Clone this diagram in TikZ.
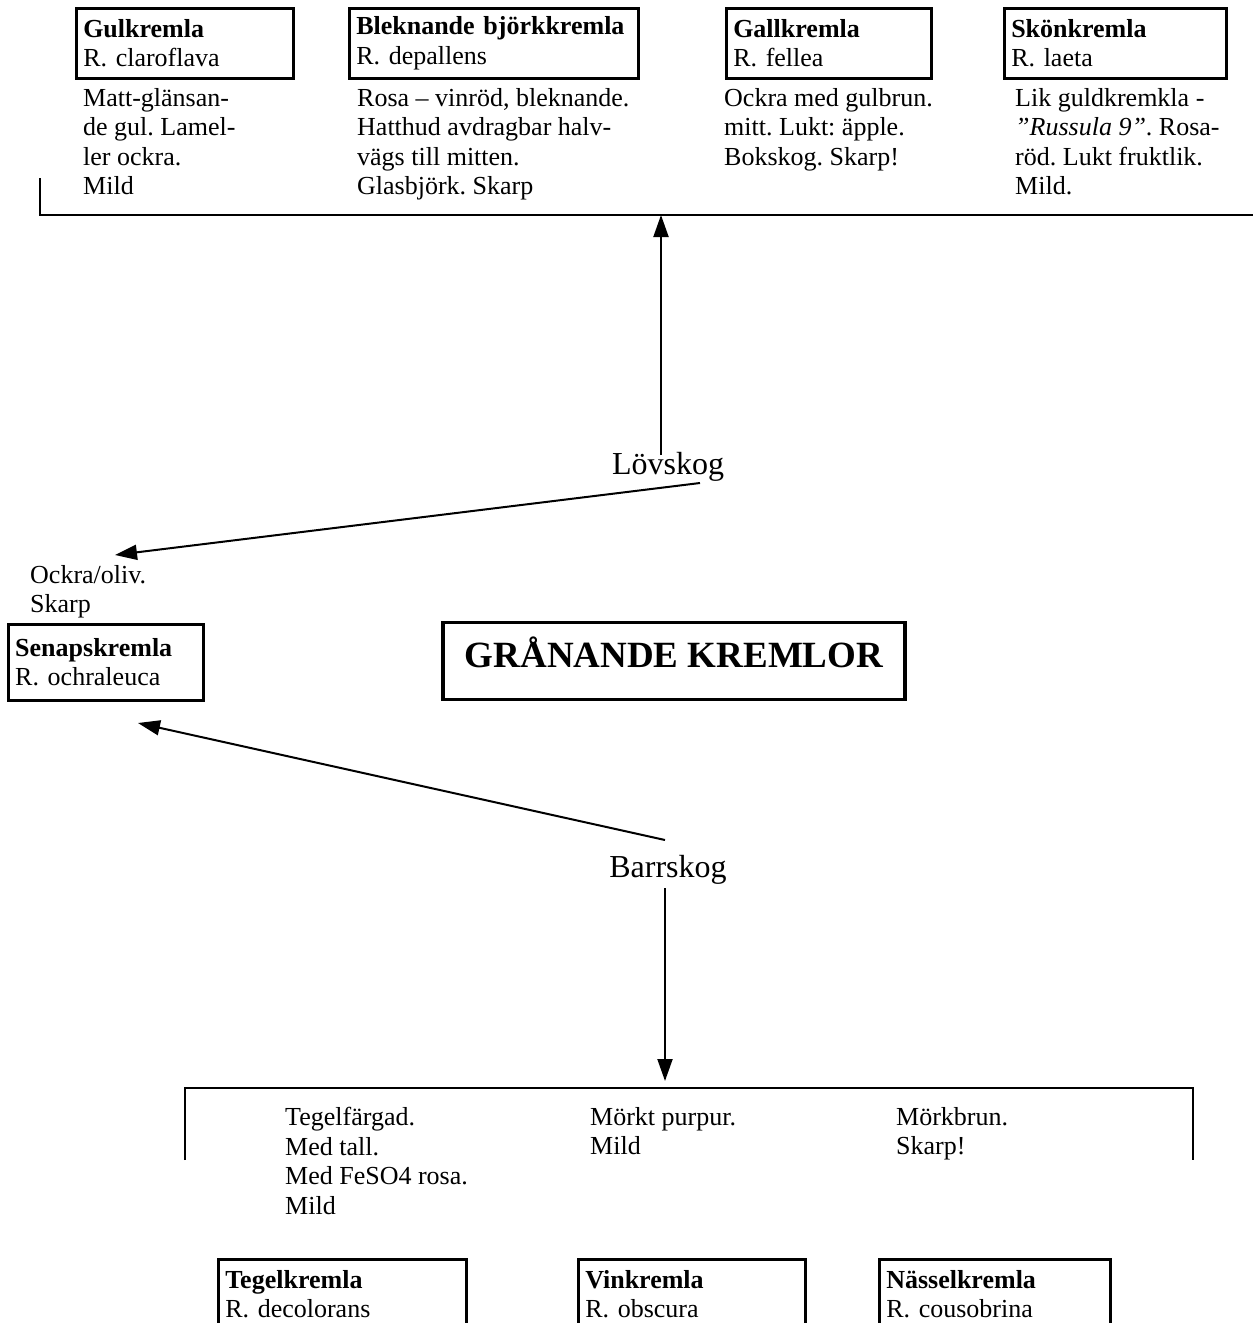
\documentclass[tikz,border=0pt]{standalone}
\usepackage{fontspec}
\setmainfont{Liberation Serif}
\usetikzlibrary{arrows.meta}
\frenchspacing
\tikzset{
  x=1pt,y=-1pt,
  body/.style={font=\fontsize{26pt}{29.5pt}\selectfont\frenchspacing},
  species/.style={draw,line width=2.5pt,anchor=north west,minimum height=70pt,
    inner xsep=7pt,inner ysep=0pt,align=left,body,text width=#1},
  desc/.style={anchor=north west,inner sep=0pt,align=left,body},
  habitat/.style={font=\fontsize{32pt}{36pt}\selectfont,inner sep=2pt},
  conn/.style={line width=2pt,-{Triangle[length=22pt,width=15pt]}},
  bracket/.style={line width=1.6pt}
}
\begin{document}
\begin{tikzpicture}
\useasboundingbox (0,0) rectangle (1253,1323);
\clip (0,0) rectangle (1253,1323);
\fill[white] (0,0) rectangle (1253,1323);

% top species boxes
\node[species=203pt] (gul) at (75,7) {\textbf{Gulkremla}\\R. claroflava};
\node[species=275pt] (blek) at (348,7) {\textbf{Bleknande björkkremla}\\R. depallens};
\node[species=191pt] (gall) at (725,7) {\textbf{Gallkremla}\\R. fellea};
\node[species=208pt] (skon) at (1003,7) {\textbf{Skönkremla}\\R. laeta};

% top descriptions
\node[desc] (gultxt) at (83,88) {Matt-glänsan-\\de gul. Lamel-\\ler ockra.\\Mild};
\node[desc] (blektxt) at (357,88) {Rosa – vinröd, bleknande.\\Hatthud avdragbar halv-\\vägs till mitten.\\Glasbjörk. Skarp};
\node[desc] (galltxt) at (724,88) {Ockra med gulbrun.\\mitt. Lukt: äpple.\\Bokskog. Skarp!};
\node[desc] (skontxt) at (1015,88) {Lik guldkremkla -\\\textit{”Russula 9”}. Rosa-\\röd. Lukt fruktlik.\\Mild.};

% top bracket
\coordinate (tl) at (40,178);
\coordinate (tc) at (661,215);
\coordinate (tr) at (1253,215);
\draw[bracket] (tl) -- (tl |- tr) -- (tr);

% habitats
\node[habitat] (lov) at (668,467) {Lövskog};
\node[habitat] (barr) at (668,870) {Barrskog};

% title
\node[draw,line width=3.5pt,minimum width=462pt,minimum height=77pt,text depth=18pt,
  font=\fontsize{37pt}{40pt}\selectfont\bfseries] (title) at (674,661) {GRÅNANDE KREMLOR};

% Senapskremla
\node[desc] (senaptxt) at (30,565) {Ockra/oliv.\\Skarp};
\node[species=181pt,minimum height=76pt] (senap) at (7,623) {\textbf{Senapskremla}\\R. ochraleuca};

% connectors
\coordinate (lovtop) at (661,455);
\coordinate (lovsw) at (700,483);
\coordinate (senaptip) at (115,555);
\coordinate (barrtop) at (665,840);
\coordinate (senapbot) at (138,723);
\coordinate (barrbot) at (665,888);
\coordinate (bc) at (665,1081);
\draw[conn] (lovtop) -- (tc);
\draw[conn] (lovsw) -- (senaptip);
\draw[conn] (barrtop) -- (senapbot);
\draw[conn] (barrbot) -- (bc);

% bottom bracket
\coordinate (bl) at (185,1160);
\coordinate (br) at (1193,1160);
\draw[bracket] (bl) -- (185,1088) -- (1193,1088) -- (br);

% bottom descriptions
\node[desc] (tegeltxt) at (285,1107) {Tegelfärgad.\\Med tall.\\Med FeSO4 rosa.\\Mild};
\node[desc] (vintxt) at (590,1107) {Mörkt purpur.\\Mild};
\node[desc] (nasseltxt) at (896,1107) {Mörkbrun.\\Skarp!};

% bottom species boxes
\node[species=234pt] (tegel) at (217,1258) {\textbf{Tegelkremla}\\R. decolorans};
\node[species=213pt] (vin) at (577,1258) {\textbf{Vinkremla}\\R. obscura};
\node[species=217pt] (nassel) at (878,1258) {\textbf{Nässelkremla}\\R. cousobrina};
\end{tikzpicture}
\end{document}
